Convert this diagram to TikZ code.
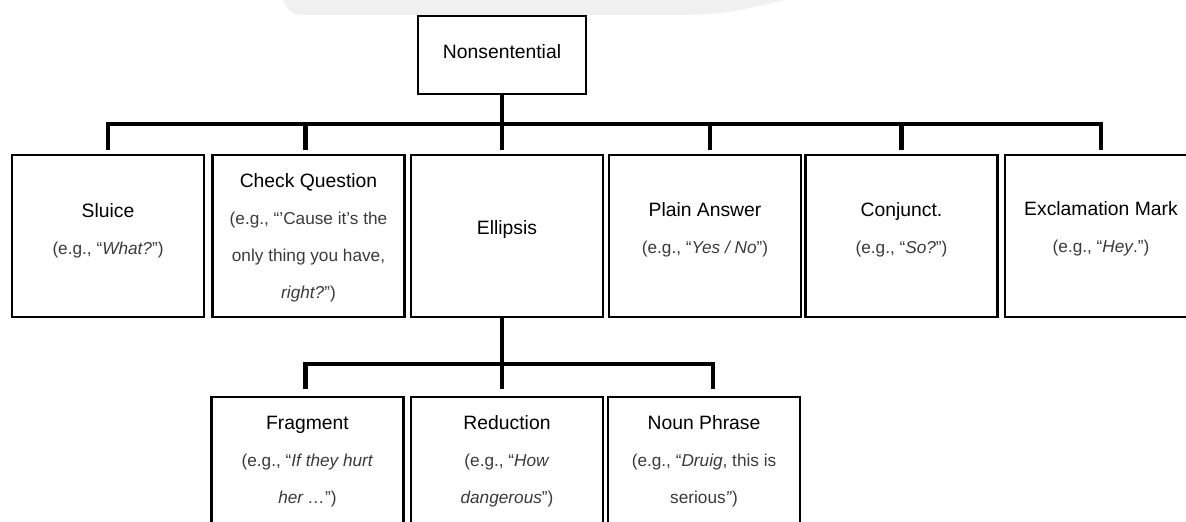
\documentclass[tikz,border=0pt]{standalone}
\usepackage{fontspec}
\setmainfont{Liberation Sans}
\usepackage{tikz}
\definecolor{egGray}{HTML}{3A3A3A}
\definecolor{wmGray}{HTML}{F0F0F0}
\newcommand{\egtext}[1]{{\color{egGray}\fontsize{9.8}{21}\selectfont #1}}

\begin{document}
\begin{tikzpicture}[x=0.02cm, y=-0.02cm,
  box/.style={draw, line width=1.5pt, minimum width=3.84cm, minimum height=3.24cm, inner sep=0pt},
  rootbox/.style={box, minimum width=3.36cm, minimum height=1.56cm},
  conn/.style={line width=2.4pt, line join=miter},
  txt/.style={align=center, anchor=base, inner sep=0pt, font=\fontsize{11}{21}\selectfont},
]
  \useasboundingbox (0,0) rectangle (1186,521);
  \clip (0,0) rectangle (1186,521);
  % faint band at the top edge
  \fill[wmGray] (283,0) .. controls (290,15) .. (320,15) -- (650,15) .. controls (720,15) .. (785,0) -- cycle;
  % ---- root ----
  \node[rootbox] (root) at (502,55) {};
  \node[txt] (tRoot) at (502,58.5) {Nonsentential};
  % ---- first level ----
  \foreach \n/\x in {sluice/108, check/308.5, ellip/507, plain/705, conj/901.5, excl/1101}
    \node[box] (\n) at (\x,236) {};
  % (anchor=base sits on the last line)
  \node[txt] (tSluice) at (108,254.5) {Sluice\\\egtext{(e.g., “\textit{What?}”)}};
  \node[txt] (tCheck) at (308.5,298.5) {Check Question\\\egtext{(e.g., “’Cause it’s the}\\\egtext{only thing you have,}\\\egtext{\textit{right?}”)}};
  \node[txt] (tEllip) at (507,234.5) {Ellipsis};
  \node[txt] (tPlain) at (705,253.5) {Plain Answer\\\egtext{(e.g., “\textit{Yes / No}”)}};
  \node[txt] (tConj) at (901.5,253.5) {Conjunct.\\\egtext{(e.g., “\textit{So?}”)}};
  \node[txt] (tExcl) at (1101,252.5) {Exclamation Mark\\\egtext{(e.g., “\textit{Hey}.”)}};
  % ---- second level (under Ellipsis) ----
  \foreach \n/\x in {frag/307.5, reduc/507, noun/704}
    \node[box] (\n) at (\x,478) {};
  \node[txt] (tFrag) at (307.5,503.5) {Fragment\\\egtext{(e.g., “\textit{If they hurt}}\\\egtext{\textit{her …}”)}};
  \node[txt] (tReduc) at (507,503.5) {Reduction\\\egtext{(e.g., “\textit{How}}\\\egtext{\textit{dangerous}”)}};
  \node[txt] (tNoun) at (704,503.5) {Noun Phrase\\\egtext{(e.g., “\textit{Druig}, this is}\\\egtext{serious\textit{”})}};
  % ---- connectors ----
  \coordinate (bus1) at (502,124);
  \coordinate (bus2) at (502,364);
  \foreach \c/\dx in {sluice/0, check/-3, ellip/-5, plain/5, conj/0, excl/0}
    \draw[conn] (root.south) -- (bus1) -| ([shift={(\dx,0)}, yshift=2pt]\c.north);
  \foreach \c/\dx in {frag/-2, reduc/-5, noun/9}
    \draw[conn] (bus2 |- ellip.south) -- (bus2) -| ([shift={(\dx,0)}, yshift=4pt]\c.north);
\end{tikzpicture}
\end{document}
